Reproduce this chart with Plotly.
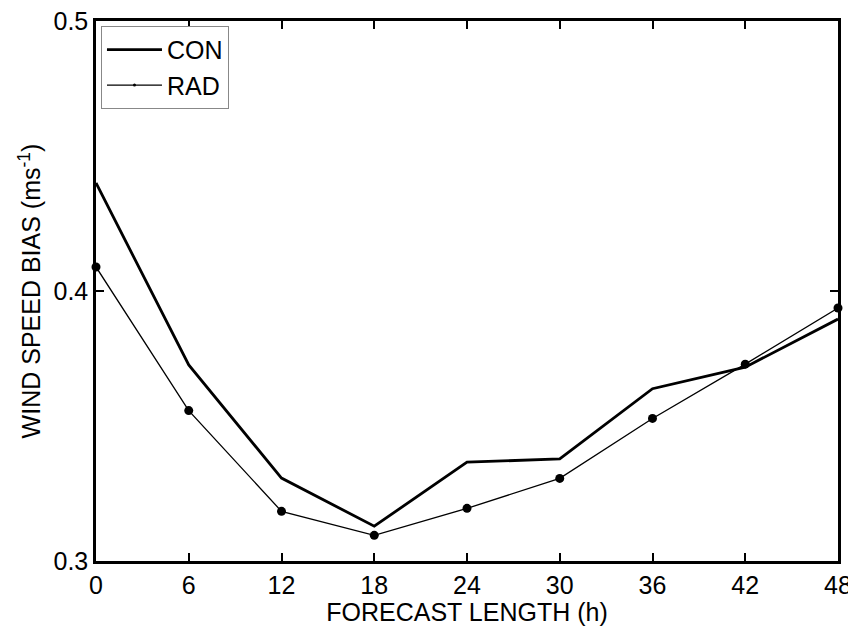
import plotly.graph_objects as go

forecast_hours = [0, 6, 12, 18, 24, 30, 36, 42, 48]
con_bias = [0.440, 0.3726, 0.3307, 0.3129, 0.3366, 0.3378, 0.3638, 0.3718, 0.3896]
rad_bias = [0.4089, 0.3557, 0.3184, 0.3095, 0.3195, 0.3306, 0.3528, 0.3729, 0.3937]
x_ticks = [0, 6, 12, 18, 24, 30, 36, 42, 48]
y_ticks = [0.3, 0.4, 0.5]

font_family = "Liberation Sans, Arial, sans-serif"
fsize = 25

fig = go.Figure()
fig.add_trace(go.Scatter(
    x=forecast_hours, y=con_bias, name="CON", mode="lines",
    line=dict(color="black", width=2.8),
))
fig.add_trace(go.Scatter(
    x=forecast_hours, y=rad_bias, name="RAD", mode="lines+markers",
    line=dict(color="black", width=1.3),
    marker=dict(color="black", size=9, symbol="circle"),
    cliponaxis=False, showlegend=False,
))
# legend-only entry for RAD with the small dot, as in the reference key
fig.add_trace(go.Scatter(
    x=[None], y=[None], name="RAD", mode="lines+markers",
    line=dict(color="black", width=1.3),
    marker=dict(color="black", size=3, symbol="circle"),
))

axis_common = dict(
    showline=True, linecolor="black", linewidth=2.5, mirror="ticks",
    ticks="inside", ticklen=8, tickwidth=2, tickcolor="black",
    showgrid=False, zeroline=False, automargin=False,
    ticklabeloverflow="allow",
    tickfont=dict(family=font_family, size=fsize, color="black"),
)

# The page body has an 8px default margin, so the figure is sized/offset to compensate
fig.update_layout(
    width=848, height=618,
    paper_bgcolor="white", plot_bgcolor="white",
    margin=dict(l=88, r=18, t=13, b=65),
    font=dict(family=font_family, size=fsize, color="black"),
    xaxis=dict(
        range=[0, 48], tickvals=x_ticks, ticktext=[str(v) for v in x_ticks],
        title=dict(text="FORECAST LENGTH (h)", standoff=0,
                   font=dict(family=font_family, size=fsize, color="black")),
        **axis_common,
    ),
    yaxis=dict(
        range=[0.3, 0.5], tickvals=y_ticks, ticktext=[f"{v:.1f}" for v in y_ticks],
        title=dict(text="WIND SPEED BIAS (ms<sup>-1</sup>)", standoff=6,
                   font=dict(family=font_family, size=fsize, color="black")),
        **axis_common,
    ),
    legend=dict(
        x=0.0067, y=0.991, xanchor="left", yanchor="top",
        bgcolor="white", bordercolor="#888888", borderwidth=1,
        font=dict(family=font_family, size=fsize, color="black"),
        itemwidth=55, tracegroupgap=0,
    ),
    showlegend=True,
)

fig.write_html("out.html")
